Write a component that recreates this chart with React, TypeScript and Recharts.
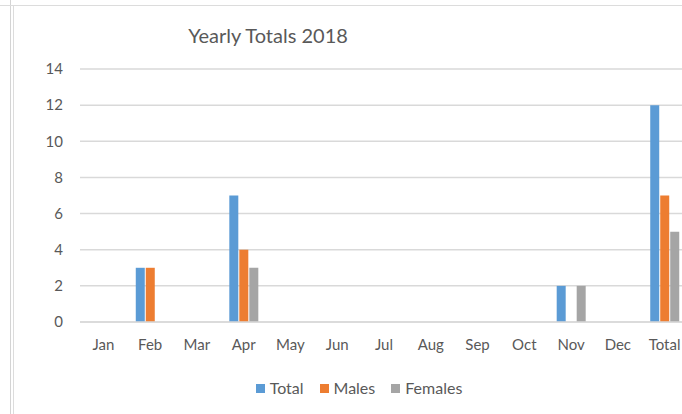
import React from "react";
import { BarChart, Bar, XAxis, YAxis, CartesianGrid, Legend } from "recharts";

const categories = ["Jan", "Feb", "Mar", "Apr", "May", "Jun", "Jul", "Aug", "Sep", "Oct", "Nov", "Dec", "Total"];
const totalValues = [0, 3, 0, 7, 0, 0, 0, 0, 0, 0, 2, 0, 12];
const maleValues = [0, 3, 0, 4, 0, 0, 0, 0, 0, 0, 0, 0, 7];
const femaleValues = [0, 0, 0, 3, 0, 0, 0, 0, 0, 0, 2, 0, 5];
const yTicks = [0, 2, 4, 6, 8, 10, 12, 14];

const seriesDefs = [
  { key: "Total", color: "#5B9BD5" },
  { key: "Males", color: "#ED7D31" },
  { key: "Females", color: "#A5A5A5" },
];

const data = categories.map((c, i) => ({
  name: c,
  Total: totalValues[i],
  Males: maleValues[i],
  Females: femaleValues[i],
}));

const FONT = "Lato, 'Noto Sans', sans-serif";
const TEXT = "#595959";

const LegendContent = () => (
  <div style={{ display: "flex", justifyContent: "center", alignItems: "center", fontFamily: FONT, fontSize: 16, color: TEXT, lineHeight: "20px" }}>
    {seriesDefs.map((s, i) => (
      <div key={s.key} style={{ display: "flex", alignItems: "center", marginLeft: i === 0 ? 0 : 16 }}>
        <span style={{ display: "inline-block", width: 9, height: 9, background: s.color, marginRight: 5 }} />
        <span>{s.key}</span>
      </div>
    ))}
  </div>
);

export default function App() {
  return (
    <div style={{ position: "absolute", left: 0, top: 0, width: 682, height: 414, overflow: "hidden", background: "#fff" }}>
      <div style={{ position: "absolute", left: 10, top: 0, width: 1, height: 414, background: "#d4d4d4" }} />
      <div style={{ position: "absolute", left: 13, top: 5, width: 1, height: 409, background: "#dcdcdc" }} />
      <div style={{ position: "absolute", left: 0, top: 5, width: 682, height: 1, background: "#dcdcdc" }} />
      <div style={{ position: "absolute", left: 0, top: 0 }}>
        <BarChart
          width={700}
          height={414}
          data={data}
          margin={{ top: 69, right: 12, left: 0, bottom: 42 }}
          barSize={9}
          barGap={1}
        >
          <text x={268} y={43} textAnchor="middle" fontFamily={FONT} fontSize={20} fill={TEXT}>
            Yearly Totals 2018
          </text>
          <CartesianGrid vertical={false} stroke="#d9d9d9" strokeWidth={1.5} />
          <XAxis
            dataKey="name"
            axisLine={{ stroke: "#d9d9d9", strokeWidth: 1.5 }}
            tickLine={false}
            tick={{ fill: TEXT, fontSize: 15, fontFamily: FONT }}
            tickMargin={11}
            height={30}
            interval={0}
          />
          <YAxis
            width={80}
            domain={[0, 14]}
            ticks={yTicks}
            axisLine={false}
            tickLine={false}
            tick={{ fill: TEXT, fontSize: 15, fontFamily: FONT }}
            tickMargin={11}
          />
          <Legend verticalAlign="bottom" content={<LegendContent />} wrapperStyle={{ left: 209, width: 300, top: 378, bottom: "auto" }} />
          {seriesDefs.map((s) => (
            <Bar key={s.key} dataKey={s.key} fill={s.color} isAnimationActive={false} />
          ))}
        </BarChart>
      </div>
    </div>
  );
}
